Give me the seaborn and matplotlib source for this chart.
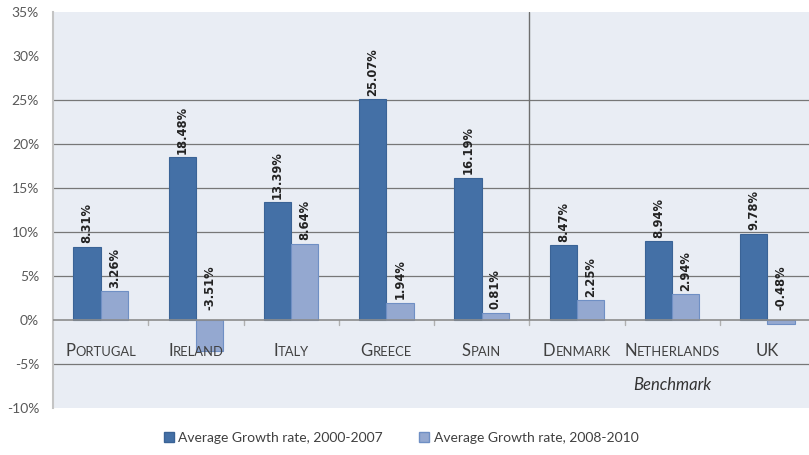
import pandas as pd
import matplotlib
matplotlib.use("Agg")
import matplotlib.pyplot as plt
import matplotlib.transforms as mtransforms
from matplotlib.patches import Patch
import seaborn as sns

# ----------------------------------------
# Data
# ----------------------------------------

countries = ["Portugal", "Ireland", "Italy", "Greece", "Spain",
             "Denmark", "Netherlands", "UK"]
growth_0007 = [8.31, 18.48, 13.39, 25.07, 16.19, 8.47, 8.94, 9.78]
growth_0810 = [3.26, -3.51, 8.64, 1.94, 0.81, 2.25, 2.94, -0.48]
series_names = ["Average Growth rate, 2000-2007", "Average Growth rate, 2008-2010"]
y_ticks = [-10, -5, 0, 5, 10, 15, 20, 25, 30, 35]

df = pd.DataFrame({
    "country": countries * 2,
    "value": growth_0007 + growth_0810,
    "period": [series_names[0]] * len(countries) + [series_names[1]] * len(countries),
})

# ----------------------------------------
# Style
# ----------------------------------------

sns.set_style("white")
plt.rcParams["font.family"] = ["Lato", "DejaVu Sans"]

dark = "#4470A6"
light = "#94A8D0"
bg = "#E9EDF4"
text_col = "#404040"

fig = plt.figure(figsize=(8.09, 4.55), dpi=100)
ax = fig.add_axes([53 / 809, 47 / 455, 762 / 809, 396 / 455])
ax.set_facecolor(bg)

sns.barplot(data=df, x="country", y="value", hue="period",
            palette=[dark, light], width=0.57, saturation=1,
            gap=0, ax=ax, zorder=3)

edges = ["#3A6396", "#6F8FC4"]
for cont, ec in zip(ax.containers, edges):
    for bar in cont:
        bar.set_edgecolor(ec)
        bar.set_linewidth(0.8)

ax.set_xlim(-0.5, 7.5)
ax.set_ylim(-10, 35)
ax.set_yticks(y_ticks)
ax.set_yticklabels([f"{v}%" for v in y_ticks], color="#595959", fontsize=10)
ax.tick_params(axis="y", length=0, pad=10)
ax.set_xticks([])
ax.set_xlabel("")
ax.set_ylabel("")

for s in ["top", "right", "bottom"]:
    ax.spines[s].set_visible(False)
ax.spines["left"].set_color("#C4C4C4")
ax.spines["left"].set_linewidth(1.5)

# gridlines
for v in [-5, 5, 10, 15, 20, 25]:
    ax.axhline(v, color="#777777", lw=0.9, zorder=1)
ax.axhline(0, color="#8C8C8C", lw=1.2, zorder=4)

# separator and small ticks
ax.plot([4.5, 4.5], [0, 35], color="#6E6E6E", lw=1.0, zorder=2)
for b in [0.5, 1.5, 2.5, 3.5, 4.5, 5.5, 6.5]:
    ax.plot([b, b], [0, -0.6], color="#B0B0B0", lw=1.0, zorder=2)

# data labels
for cont in ax.containers:
    for bar in cont:
        v = bar.get_height()
        x = bar.get_x() + bar.get_width() / 2
        y = v + 0.4 if v >= 0 else 1.1
        ax.text(x, y, f"{v:.2f}%", rotation=90, ha="center", va="bottom",
                fontsize=8.3, fontweight="bold", family="DejaVu Sans",
                color="#222222", zorder=5)

# category labels in small caps
pairs = []
for i, name in enumerate(countries):
    if name.isupper():
        first, rest = name, ""
    else:
        first, rest = name[0], name[1:].upper()
    t1 = ax.text(i, -4.1, first, fontsize=12, color=text_col,
                 ha="left", va="baseline")
    t2 = ax.text(i, -4.1, rest, fontsize=9.4, color=text_col,
                 ha="left", va="baseline")
    pairs.append((i, t1, t2))

fig.canvas.draw()
for i, t1, t2 in pairs:
    w1 = t1.get_window_extent().width
    w2 = t2.get_window_extent().width if t2.get_text() else 0
    total = w1 + w2
    t1.set_transform(mtransforms.offset_copy(ax.transData, fig, x=-total / 2,
                                             y=0, units="dots"))
    t2.set_transform(mtransforms.offset_copy(ax.transData, fig, x=-total / 2 + w1,
                                             y=0, units="dots"))

ax.text(6, -7.4, "Benchmark", style="italic", ha="center", va="center",
        fontsize=12, color="#333333")

# legend
ax.get_legend().remove()
handles = [Patch(facecolor=dark, edgecolor=edges[0]),
           Patch(facecolor=light, edgecolor=edges[1])]
fig.legend(handles, series_names, loc="center", bbox_to_anchor=(401 / 809, 1 - 438 / 455),
           ncol=2, frameon=False, fontsize=10, labelcolor=text_col,
           handlelength=0.75, handleheight=0.75, handletextpad=0.3,
           columnspacing=2.6)

fig.savefig("out.png", dpi=100, facecolor="white")
